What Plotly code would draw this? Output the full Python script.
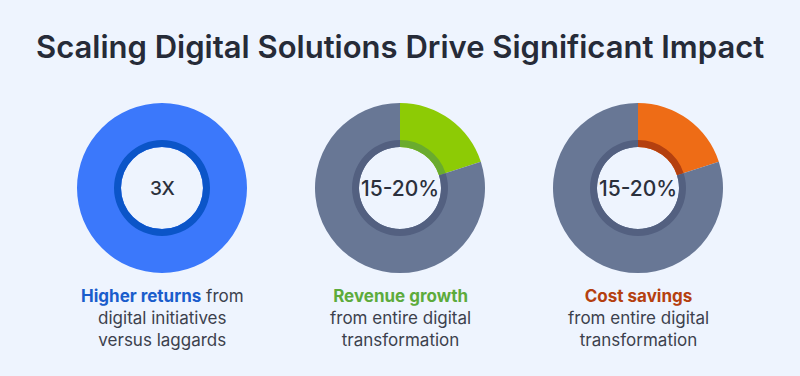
import plotly.graph_objects as go

W, H = 800, 376
title = "Scaling Digital Solutions Drive Significant Impact"

# data
center_labels = ["3X", "15-20%", "15-20%"]
donut1_values = [100]
donut2_values = [20, 80]
donut3_values = [20, 80]
highlight_words = ["Higher returns", "Revenue growth", "Cost savings"]
rest_texts = [" from<br>digital initiatives<br>versus laggards",
              "<br>from entire digital<br>transformation",
              "<br>from entire digital<br>transformation"]

outer_colors = [["#3b78fb"], ["#8dcb05", "#687795"], ["#ee6c16", "#687795"]]
inner_colors = [["#0b55c8"], ["#6aab2e", "#536080"], ["#b4400f", "#536080"]]
highlight_colors = ["#1a5dcc", "#5dab3c", "#b5400f"]

values = [donut1_values, donut2_values, donut3_values]
centers_x = [162, 400, 638]
cy = 188
R_out, R_ring, R_hole = 85, 48, 41

fig = go.Figure()

def dom(cx, r):
    return dict(x=[(cx - r) / W, (cx + r) / W],
                y=[1 - (cy + r) / H, 1 - (cy - r) / H])

for i in range(3):
    fig.add_trace(go.Pie(values=values[i], domain=dom(centers_x[i], R_out),
                         hole=R_hole / R_out, sort=False, direction="clockwise",
                         rotation=0, marker=dict(colors=outer_colors[i], line=dict(width=0)),
                         textinfo="none", hoverinfo="skip", showlegend=False))
    fig.add_trace(go.Pie(values=values[i], domain=dom(centers_x[i], R_ring),
                         hole=R_hole / R_ring, sort=False, direction="clockwise",
                         rotation=0, marker=dict(colors=inner_colors[i], line=dict(width=0)),
                         textinfo="none", hoverinfo="skip", showlegend=False))
    fig.add_annotation(x=centers_x[i] / W, y=1 - cy / H, xref="paper", yref="paper",
                       xanchor="center", yanchor="middle",
                       text=center_labels[i], showarrow=False,
                       font=dict(family="Inter", size=19 if i == 0 else 21, weight=500,
                                 color="#2b303c"))
    fig.add_annotation(x=centers_x[i] / W, y=1 - 284 / H, xref="paper", yref="paper",
                       xanchor="center", yanchor="top", align="center",
                       text=f"<span style='color:{highlight_colors[i]}'><b>{highlight_words[i]}</b></span>{rest_texts[i]}",
                       showarrow=False,
                       font=dict(family="Inter", size=17, color="#3c414d"))

fig.add_annotation(x=0.5, y=1 - 46 / H, xref="paper", yref="paper",
                   xanchor="center", yanchor="middle",
                   text=title, showarrow=False,
                   font=dict(family="Inter", size=31, weight=600, color="#262b38"))

fig.update_layout(width=W, height=H, margin=dict(l=0, r=0, t=0, b=0),
                  paper_bgcolor="#eef4fe", plot_bgcolor="#eef4fe")
fig.write_html("out.html", config={"displayModeBar": False},
               post_script="document.body.style.margin='0';")
